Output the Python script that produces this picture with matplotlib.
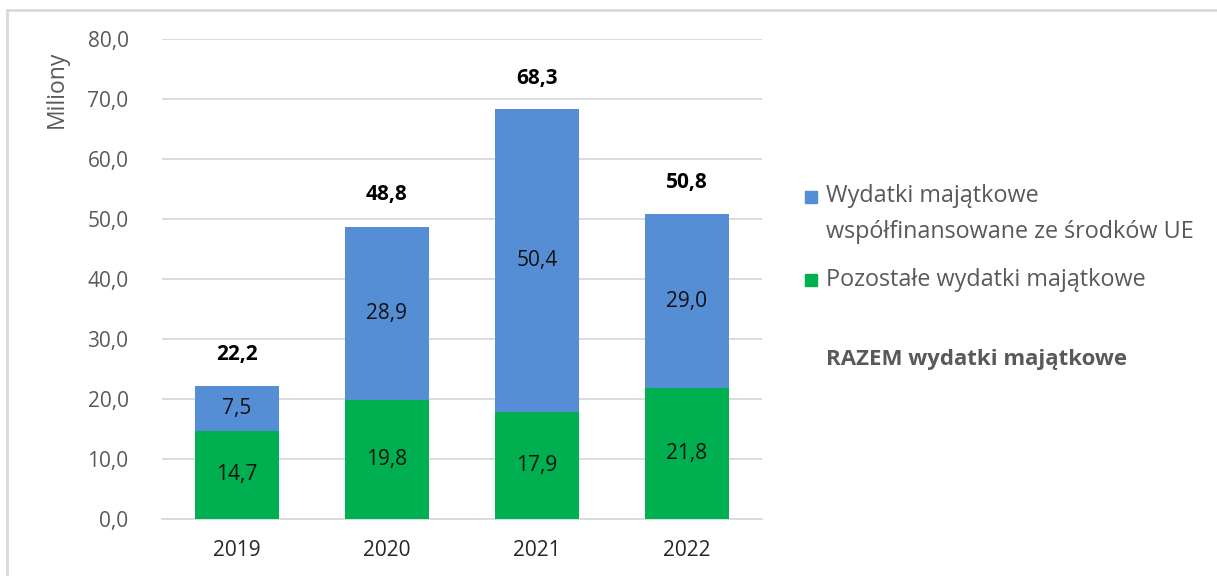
from matplotlib import pyplot as plt
from matplotlib.patches import Rectangle
import numpy as np

plt.rcParams['font.family'] = ['Open Sans', 'DejaVu Sans']

# data
years = ["2019", "2020", "2021", "2022"]
ue = [7.5, 28.9, 50.4, 29.0]          # wydatki współfinansowane ze środków UE
pozostale = [14.7, 19.8, 17.9, 21.8]  # pozostałe wydatki majątkowe
razem = [22.2, 48.8, 68.3, 50.8]      # razem

blue = "#558ED5"
green = "#00B050"
grey = "#595959"

fig = plt.figure(figsize=(12.17, 5.76), dpi=100)
ax = fig.add_axes([0.133, 0.099, 0.493, 0.833])

x = np.arange(len(years))
ax.bar(x, pozostale, 0.56, color=green, zorder=3)
ax.bar(x, ue, 0.56, bottom=pozostale, color=blue, zorder=3)

for i in range(len(years)):
    ax.text(x[i], pozostale[i] / 2, f"{pozostale[i]:.1f}".replace(".", ","),
            ha="center", va="center", fontsize=15, color="#111111", zorder=4)
    ax.text(x[i], pozostale[i] + ue[i] / 2, f"{ue[i]:.1f}".replace(".", ","),
            ha="center", va="center", fontsize=15, color="#111111", zorder=4)
    ax.annotate(f"{razem[i]:.1f}".replace(".", ","), (x[i], razem[i]),
                xytext=(0, 15), textcoords="offset points",
                ha="center", va="bottom", fontsize=15, fontweight="bold")

ax.set_xlim(-0.5, 3.5)
ax.set_ylim(0, 80)
ax.set_yticks(np.arange(0, 81, 10))
ax.set_yticklabels([f"{v:.1f}".replace(".", ",") for v in np.arange(0, 81, 10)])
ax.set_xticks(x)
ax.set_xticklabels(years)
ax.tick_params(axis="y", length=0, pad=24, labelsize=15, labelcolor=grey)
ax.tick_params(axis="x", length=0, pad=15, labelsize=15, labelcolor="#262626")
ax.grid(axis="y", color="#D9D9D9", linewidth=1.3, zorder=0)
for s in ["top", "right", "left"]:
    ax.spines[s].set_visible(False)
ax.spines["bottom"].set_color("#D9D9D9")
ax.spines["bottom"].set_linewidth(1.3)
ax.set_ylabel("Miliony", fontsize=16.5, color=grey)
ax.yaxis.set_label_coords(-0.155, 0.895)

# legend
fig.patches.append(Rectangle((805 / 1217, 1 - 203 / 576), 12 / 1217, 12 / 576,
                             transform=fig.transFigure, color=blue))
fig.patches.append(Rectangle((805 / 1217, 1 - 286 / 576), 12 / 1217, 12 / 576,
                             transform=fig.transFigure, color=green))
fig.text(826 / 1217, 1 - 196 / 576, "Wydatki majątkowe", fontsize=16.8,
         color=grey, va="center")
fig.text(826 / 1217, 1 - 232 / 576, "współfinansowane ze środków UE",
         fontsize=16.8, color=grey, va="center")
fig.text(826 / 1217, 1 - 280 / 576, "Pozostałe wydatki majątkowe",
         fontsize=16.8, color=grey, va="center")
fig.text(826 / 1217, 1 - 360 / 576, "RAZEM wydatki majątkowe",
         fontsize=16, color=grey, va="center", fontweight="bold")

# chart border
fig.patches.append(Rectangle((7 / 1217, -0.1), 1.2, 1 - 10 / 576 + 0.1,
                             transform=fig.transFigure, fill=False,
                             edgecolor="#D9D9D9", linewidth=2))

fig.savefig("out.png", dpi=100)
